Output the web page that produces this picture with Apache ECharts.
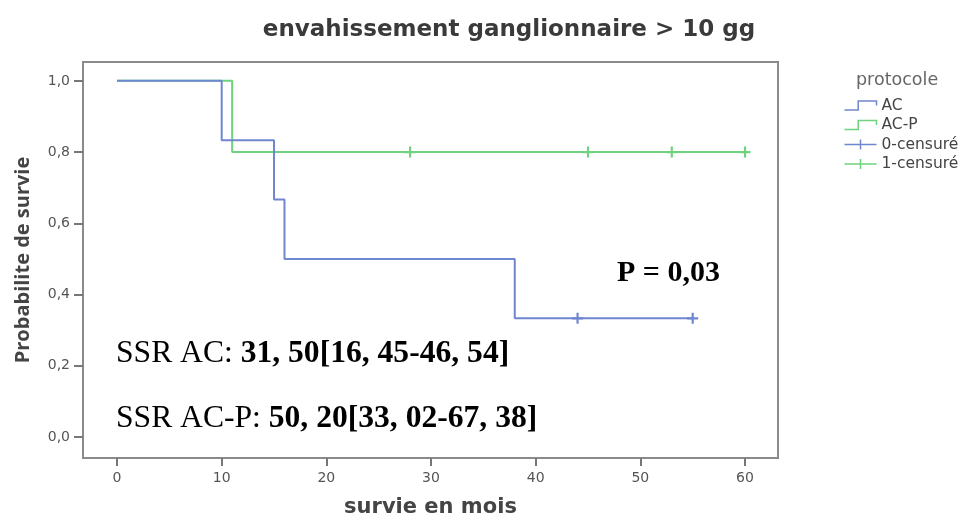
<!DOCTYPE html>
<html>
<head>
<meta charset="utf-8">
<script src="https://cdn.jsdelivr.net/npm/echarts@6/dist/echarts.min.js"></script>
<style>
  html, body { margin: 0; padding: 0; background: #fff; }
  #chart { width: 968px; height: 515px; }
</style>
</head>
<body>
<div id="chart"></div>
<script>
// Kaplan-Meier survival, protocol AC vs AC-P (months, survival probability)
const monthsAC = [0, 10, 15, 16, 38, 55];
const survivalAC = [1, 0.8333, 0.6667, 0.5, 0.3333, 0.3333];
const monthsACP = [0, 11, 60];
const survivalACP = [1, 0.8, 0.8];

// censored observations
const censoredMonthsAC = [44, 55];
const censoredSurvivalAC = [0.3333, 0.3333];
const censoredMonthsACP = [28, 45, 53, 60];
const censoredSurvivalACP = [0.8, 0.8, 0.8, 0.8];

// axis ticks
const xTicks = [0, 10, 20, 30, 40, 50, 60];
const yTicks = [0, 0.2, 0.4, 0.6, 0.8, 1.0];

const blue = '#6f86d0';
const green = '#6fd27f';
const crossPath = 'path://M4,0H6V4H10V6H6V10H4V6H0V4H4Z';

const zip = (xs, ys) => xs.map((x, i) => [x, ys[i]]);

const chart = echarts.init(document.getElementById('chart'), null, { renderer: 'canvas' });

chart.setOption({
  animation: false,
  backgroundColor: '#ffffff',
  title: [
    {
      text: 'envahissement ganglionnaire > 10 gg',
      left: 509,
      top: 19,
      textAlign: 'center',
      padding: 0,
      textStyle: { fontFamily: 'DejaVu Sans', fontWeight: 'bold', fontSize: 23, color: '#3a3a3a' }
    },
    {
      text: 'protocole',
      left: 856,
      top: 71,
      padding: 0,
      textStyle: { fontFamily: 'DejaVu Sans', fontWeight: 'normal', fontSize: 17.5, color: '#666' }
    }
  ],
  legend: {
    orient: 'vertical',
    left: 842,
    top: 97,
    itemWidth: 32,
    itemHeight: 10,
    itemGap: 2.5,
    padding: 0,
    textStyle: { fontFamily: 'DejaVu Sans', fontSize: 15.5, color: '#444', lineHeight: 17 },
    data: [
      { name: 'AC', icon: 'path://M0,9 L12,9 L12,1 L28,1 L28,5',
        itemStyle: { color: 'none', borderColor: blue, borderWidth: 1.5 } },
      { name: 'AC-P', icon: 'path://M0,9 L12,9 L12,1 L28,1 L28,5',
        itemStyle: { color: 'none', borderColor: green, borderWidth: 1.5 } },
      { name: '0-censuré', icon: 'path://M0,5 L32,5 M16,0 L16,10',
        itemStyle: { color: 'none', borderColor: blue, borderWidth: 1.5 } },
      { name: '1-censuré', icon: 'path://M0,5 L32,5 M16,0 L16,10',
        itemStyle: { color: 'none', borderColor: green, borderWidth: 1.5 } }
    ]
  },
  grid: {
    left: 83,
    top: 62,
    right: 190,
    bottom: 57,
    outerBoundsMode: 'none',
    containLabel: false,
    show: true,
    borderColor: '#8a8a8a',
    borderWidth: 2,
    backgroundColor: '#fff'
  },
  xAxis: {
    type: 'value',
    min: -3.25,
    max: 63.15,
    name: 'survie en mois',
    nameLocation: 'middle',
    nameGap: 39,
    nameTextStyle: { fontFamily: 'DejaVu Sans', fontWeight: 'bold', fontSize: 21, color: '#444' },
    axisLine: { show: false, onZero: false },
    splitLine: { show: false },
    axisTick: { show: true, customValues: xTicks, length: 8, lineStyle: { color: '#777', width: 2 } },
    axisLabel: {
      customValues: xTicks,
      margin: 13,
      fontFamily: 'DejaVu Sans',
      fontSize: 14,
      color: '#555'
    }
  },
  yAxis: {
    type: 'value',
    min: -0.059,
    max: 1.053,
    name: 'Probabilite de survie',
    nameLocation: 'middle',
    nameGap: 50,
    nameTextStyle: { fontFamily: 'Open Sans', fontWeight: 'bold', fontSize: 20, color: '#444' },
    axisLine: { show: false, onZero: false },
    splitLine: { show: false },
    axisTick: { show: true, customValues: yTicks, length: 9, lineStyle: { color: '#777', width: 2 } },
    axisLabel: {
      customValues: yTicks,
      margin: 13,
      fontFamily: 'DejaVu Sans',
      fontSize: 14,
      color: '#555',
      formatter: v => v.toFixed(1).replace('.', ',')
    }
  },
  series: [
    {
      name: 'AC',
      type: 'line',
      step: 'end',
      showSymbol: false,
      data: zip(monthsAC, survivalAC),
      lineStyle: { color: blue, width: 2 },
      itemStyle: { color: blue },
      z: 3
    },
    {
      name: 'AC-P',
      type: 'line',
      step: 'end',
      showSymbol: false,
      data: zip(monthsACP, survivalACP),
      lineStyle: { color: green, width: 2 },
      itemStyle: { color: green },
      z: 2
    },
    {
      name: '0-censuré',
      type: 'scatter',
      symbol: crossPath,
      symbolSize: 11,
      data: zip(censoredMonthsAC, censoredSurvivalAC),
      itemStyle: { color: blue, opacity: 1 },
      z: 4
    },
    {
      name: '1-censuré',
      type: 'scatter',
      symbol: crossPath,
      symbolSize: 11,
      data: zip(censoredMonthsACP, censoredSurvivalACP),
      itemStyle: { color: green, opacity: 1 },
      z: 4
    }
  ],
  graphic: [
    {
      type: 'text',
      left: 617,
      top: 258,
      z: 10,
      style: {
        text: 'P = 0,03',
        fontFamily: 'Liberation Serif',
        fontWeight: 'bold',
        fontSize: 30,
        fill: '#000'
      }
    },
    {
      type: 'text',
      left: 116,
      top: 338,
      z: 10,
      style: {
        text: '{n|SSR AC: }{b|31, 50[16, 45-46, 54]}',
        rich: {
          n: { fontFamily: 'Liberation Serif', fontSize: 31.6, fill: '#000' },
          b: { fontFamily: 'Liberation Serif', fontSize: 31.6, fontWeight: 'bold', fill: '#000' }
        }
      }
    },
    {
      type: 'text',
      left: 116,
      top: 403,
      z: 10,
      style: {
        text: '{n|SSR AC-P: }{b|50, 20[33, 02-67, 38]}',
        rich: {
          n: { fontFamily: 'Liberation Serif', fontSize: 31.6, fill: '#000' },
          b: { fontFamily: 'Liberation Serif', fontSize: 31.6, fontWeight: 'bold', fill: '#000' }
        }
      }
    }
  ]
});
</script>
</body>
</html>
